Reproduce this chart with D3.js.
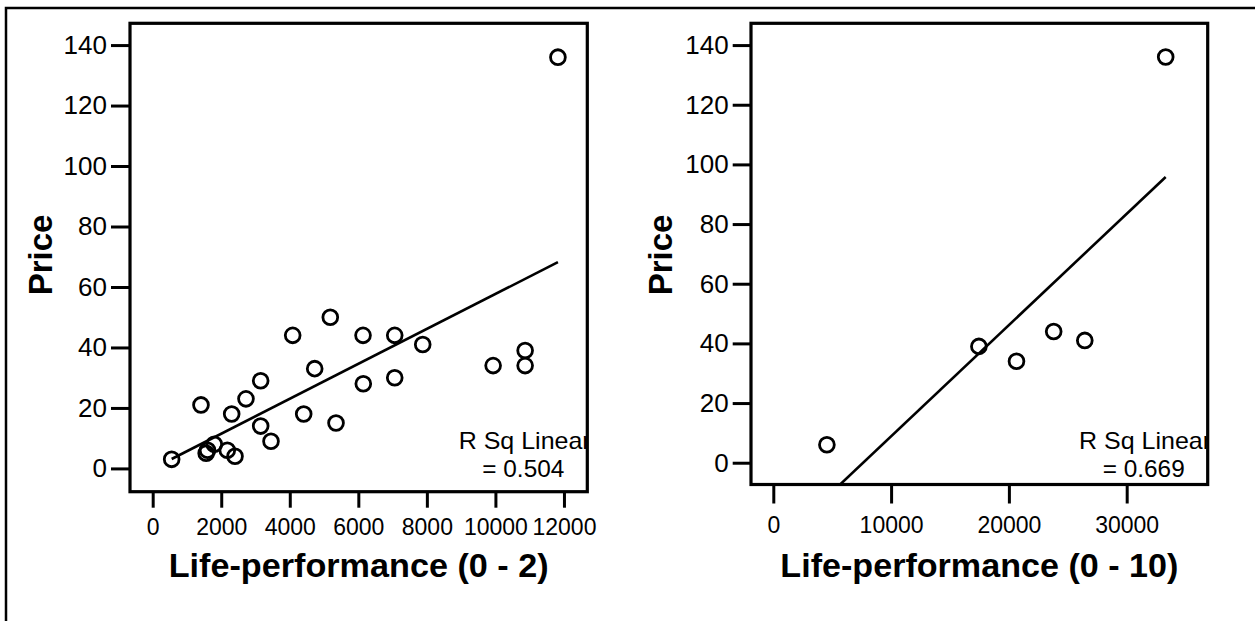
<!DOCTYPE html>
<html>
<head>
<meta charset="utf-8">
<script src="https://cdn.jsdelivr.net/npm/d3@7"></script>
<style>
  body { margin: 0; background: #fff; }
  svg { display: block; font-family: "Liberation Sans", Arial, sans-serif; }
</style>
</head>
<body>
<div id="chart"></div>
<script>
// price vs life-performance, two panels
const leftX = [554, 1409, 1560, 1600, 1797, 2305, 2177, 2402, 2722, 3151, 3151, 3452, 4085,
               4406, 4727, 5182, 5349, 6137, 6145, 7062, 7062, 7879, 9933, 10867, 10867, 11824]
const leftY = [3, 21, 5, 6, 8, 18, 6, 4, 23, 29, 14, 9, 44,
               18, 33, 50, 15, 44, 28, 44, 30, 41, 34, 39, 34, 136]
const rightX = [4550, 17454, 20645, 23803, 26443, 33311]
const rightY = [6, 39, 34, 44, 41, 136]

const yTicks = [0, 20, 40, 60, 80, 100, 120, 140]
const leftXTicks = [0, 2000, 4000, 6000, 8000, 10000, 12000]
const rightXTicks = [0, 10000, 20000, 30000]

const xTitles = ["Life-performance (0 - 2)", "Life-performance (0 - 10)"]
const yTitle = "Price"
const rsqLabels = ["= 0.504", "= 0.669"]

const W = 1255, H = 621

const svg = d3.select("#chart").append("svg")
    .attr("width", W)
    .attr("height", H)

svg.append("rect").attr("width", W).attr("height", H).attr("fill", "#fff")

// outer border (runs off right/bottom edges)
svg.append("rect")
    .attr("x", 6).attr("y", 8)
    .attr("width", W + 20).attr("height", H + 20)
    .attr("fill", "none").attr("stroke", "#000").attr("stroke-width", 2.5)

function fit(xs, ys) {
    const mx = d3.mean(xs), my = d3.mean(ys)
    let sxy = 0, sxx = 0
    xs.forEach((x, i) => { sxy += (x - mx) * (ys[i] - my); sxx += (x - mx) * (x - mx) })
    const b = sxy / sxx
    return { a: my - b * mx, b: b }
}

function panel(p) {
    const x = d3.scaleLinear().domain(p.xDomain).range([p.left, p.right])
    const y = d3.scaleLinear().domain(p.yDomain).range([p.bottom, p.top])
    const g = svg.append("g")

    const clipId = "clip" + p.id
    g.append("clipPath").attr("id", clipId)
      .append("rect")
        .attr("x", p.left).attr("y", p.top)
        .attr("width", p.right - p.left).attr("height", p.bottom - p.top)

    // y axis
    const ya = g.append("g")
        .attr("transform", "translate(" + p.left + ",0)")
        .call(d3.axisLeft(y).tickValues(yTicks).tickSize(p.tickLen).tickPadding(4))
    ya.select(".domain").remove()
    ya.selectAll(".tick line").attr("stroke", "#000").attr("stroke-width", 3)
    ya.selectAll(".tick text")
        .attr("font-size", 26).attr("fill", "#000")
        .attr("font-family", "Liberation Sans, Arial, sans-serif")

    // x axis
    const xa = g.append("g")
        .attr("transform", "translate(0," + p.bottom + ")")
        .call(d3.axisBottom(x).tickValues(p.xTicks).tickSize(p.xTickLen).tickPadding(p.xPad).tickFormat(d3.format("d")))
    xa.select(".domain").remove()
    xa.selectAll(".tick line").attr("stroke", "#000").attr("stroke-width", 3)
    xa.selectAll(".tick text")
        .attr("font-size", 23).attr("fill", "#000")
        .attr("font-family", "Liberation Sans, Arial, sans-serif")

    // fit line
    const f = fit(p.xs, p.ys)
    const ext = d3.extent(p.xs)
    g.append("line")
        .attr("clip-path", "url(#" + clipId + ")")
        .attr("x1", x(ext[0])).attr("y1", y(f.a + f.b * ext[0]))
        .attr("x2", x(ext[1])).attr("y2", y(f.a + f.b * ext[1]))
        .attr("stroke", "#000").attr("stroke-width", 2.6)

    // points
    g.append("g").attr("clip-path", "url(#" + clipId + ")")
      .selectAll("circle")
      .data(p.xs.map((v, i) => [v, p.ys[i]]))
      .join("circle")
        .attr("cx", d => x(d[0]))
        .attr("cy", d => y(d[1]))
        .attr("r", 7.4)
        .attr("fill", "none")
        .attr("stroke", "#000")
        .attr("stroke-width", 2.8)

    // R sq label
    const t = g.append("g").attr("clip-path", "url(#" + clipId + ")")
    t.append("text")
        .attr("x", p.right - 128.6).attr("y", p.rsqY)
        .attr("font-size", 24)
        .attr("textLength", 132).attr("lengthAdjust", "spacingAndGlyphs")
        .text("R Sq Linear")
    t.append("text")
        .attr("x", p.right - 105).attr("y", p.rsqY + 28.3)
        .attr("font-size", 24)
        .attr("textLength", 82).attr("lengthAdjust", "spacingAndGlyphs")
        .text(p.rsq)

    // frame
    g.append("rect")
        .attr("x", p.left).attr("y", p.top)
        .attr("width", p.right - p.left).attr("height", p.bottom - p.top)
        .attr("fill", "none").attr("stroke", "#000").attr("stroke-width", 3.2)

    // titles
    g.append("text")
        .attr("x", (p.left + p.right) / 2 + 0).attr("y", 576.5)
        .attr("text-anchor", "middle")
        .attr("font-size", 33).attr("font-weight", "bold")
        .attr("textLength", p.titleLen).attr("lengthAdjust", "spacingAndGlyphs")
        .text(p.xTitle)
    g.append("text")
        .attr("transform", "translate(" + p.yTitleX + ",255) rotate(-90)")
        .attr("text-anchor", "middle")
        .attr("font-size", 33).attr("font-weight", "bold")
        .text(yTitle)
}

panel({
    id: 1, xs: leftX, ys: leftY, xTicks: leftXTicks,
    xDomain: [-662, 12681], yDomain: [-7.7, 147.2],
    left: 130, right: 587.3, top: 23.3, bottom: 491.7,
    tickLen: 19, xTickLen: 16, xPad: 11, rsqY: 449, rsq: rsqLabels[0],
    xTitle: xTitles[0], titleLen: 380, yTitleX: 51.5
})

panel({
    id: 2, xs: rightX, ys: rightY, xTicks: rightXTicks,
    xDomain: [-1893, 36877], yDomain: [-7.3, 147.3],
    left: 751, right: 1207.7, top: 23.3, bottom: 484.5,
    tickLen: 18.3, xTickLen: 19, xPad: 12.9, rsqY: 449, rsq: rsqLabels[1],
    xTitle: xTitles[1], titleLen: 398, yTitleX: 671.7
})
</script>
</body>
</html>
